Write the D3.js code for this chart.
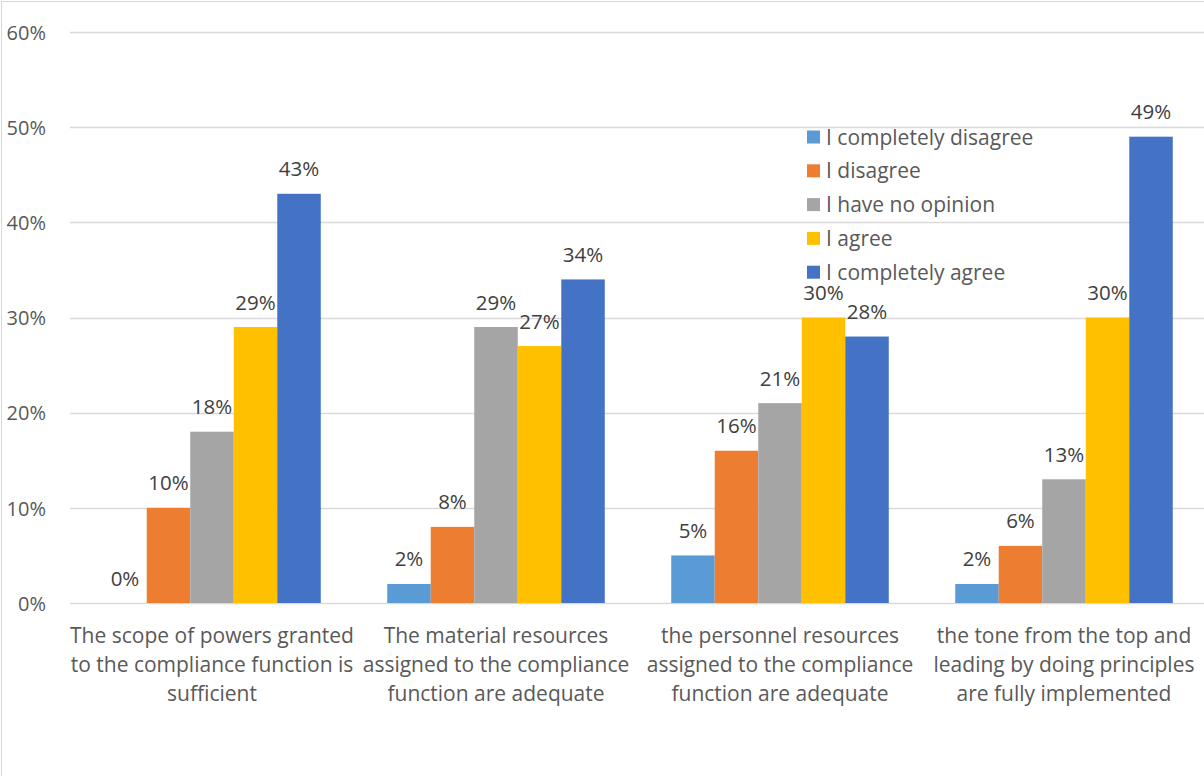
<!DOCTYPE html>
<html>
<head>
<meta charset="utf-8">
<script src="https://cdn.jsdelivr.net/npm/d3@7"></script>
<style>
  html, body { margin: 0; padding: 0; background: #fff; }
  svg { display: block; }
  text { font-family: "Open Sans", "Liberation Sans", sans-serif; }
</style>
</head>
<body>
<svg id="chart" width="1204" height="776"></svg>
<script>
// Survey statements (wrapped as they appear under the axis)
const categories = [
  ["The scope of powers granted", "to the compliance function is", "sufficient"],
  ["The material resources", "assigned to the compliance", "function are adequate"],
  ["the personnel resources", "assigned to the compliance", "function are adequate"],
  ["the tone from the top and", "leading by doing principles", "are fully implemented"]
];

const seriesNames = ["I completely disagree", "I disagree", "I have no opinion", "I agree", "I completely agree"];
const seriesColors = ["#5B9BD5", "#ED7D31", "#A5A5A5", "#FFC000", "#4472C4"];

// Share of respondents, in percent, per statement
const completelyDisagree = [0, 2, 5, 2];
const disagree = [10, 8, 16, 6];
const noOpinion = [18, 29, 21, 13];
const agree = [29, 27, 30, 30];
const completelyAgree = [43, 34, 28, 49];

const yTicks = [0, 10, 20, 30, 40, 50, 60];

const seriesValues = [completelyDisagree, disagree, noOpinion, agree, completelyAgree];

const svg = d3.select("#chart");
const W = 1204, H = 776;

// chart area frame
svg.append("rect")
  .attr("x", 1.5).attr("y", 1.5)
  .attr("width", W + 10).attr("height", H + 10)
  .attr("fill", "#fff").attr("stroke", "#D9D9D9").attr("stroke-width", 1);

const plot = { left: 70, right: 1206, top: 32, bottom: 603 };

const x0 = d3.scaleBand()
  .domain(d3.range(categories.length))
  .range([plot.left, plot.right])
  .paddingInner(0.234)
  .paddingOuter(0.117);

const x1 = d3.scaleBand()
  .domain(d3.range(seriesNames.length))
  .range([0, x0.bandwidth()]);

const y = d3.scaleLinear().domain([0, 60]).range([plot.bottom, plot.top]);

// gridlines
svg.append("g")
  .selectAll("line")
  .data(yTicks)
  .join("line")
  .attr("x1", plot.left).attr("x2", W)
  .attr("y1", d => Math.round(y(d)) + 0.5).attr("y2", d => Math.round(y(d)) + 0.5)
  .attr("stroke", "#D9D9D9").attr("stroke-width", 1.5);

// y axis labels
const yAxis = d3.axisLeft(y).tickValues(yTicks).tickFormat(d => d + "%").tickSize(0).tickPadding(0);
const yg = svg.append("g").attr("transform", `translate(46,0)`).call(yAxis);
yg.select(".domain").remove();
yg.selectAll("text")
  .attr("fill", "#595959")
  .style("font-family", "'Open Sans', sans-serif")
  .style("font-size", "20px")
  .attr("dy", "0.36em");

// bars
const groups = svg.append("g")
  .selectAll("g")
  .data(seriesValues)
  .join("g")
  .attr("fill", (d, i) => seriesColors[i]);

groups.each(function(vals, si) {
  const g = d3.select(this);
  g.selectAll("rect")
    .data(vals)
    .join("rect")
    .attr("x", (d, ci) => x0(ci) + x1(si))
    .attr("y", d => y(d))
    .attr("width", x1.bandwidth())
    .attr("height", d => y(0) - y(d));

  g.selectAll("text")
    .data(vals)
    .join("text")
    .attr("x", (d, ci) => x0(ci) + x1(si) + x1.bandwidth() / 2)
    .attr("y", d => y(d) - 17.5)
    .attr("text-anchor", "middle")
    .attr("fill", "#404040")
    .style("font-size", "20.5px")
    .text(d => d + "%");
});

// category labels
const catG = svg.append("g")
  .selectAll("text")
  .data(categories)
  .join("text")
  .attr("x", (d, i) => x0(i) + x0.bandwidth() / 2)
  .attr("y", 643)
  .attr("text-anchor", "middle")
  .attr("fill", "#595959")
  .style("font-size", "21px");

catG.selectAll("tspan")
  .data(d => d)
  .join("tspan")
  .attr("x", function() { return d3.select(this.parentNode).attr("x"); })
  .attr("dy", (d, i) => i === 0 ? 0 : 29)
  .text(d => d);

// legend
const legend = svg.append("g").attr("transform", "translate(807,137)");
const items = legend.selectAll("g")
  .data(seriesNames)
  .join("g")
  .attr("transform", (d, i) => `translate(0,${i * 33.8})`);

items.append("rect")
  .attr("x", 0).attr("y", -6.5)
  .attr("width", 13).attr("height", 13)
  .attr("fill", (d, i) => seriesColors[i]);

items.append("text")
  .attr("x", 19).attr("y", 0)
  .attr("dy", "0.36em")
  .attr("fill", "#595959")
  .style("font-size", "21px")
  .text(d => d);
</script>
</body>
</html>
